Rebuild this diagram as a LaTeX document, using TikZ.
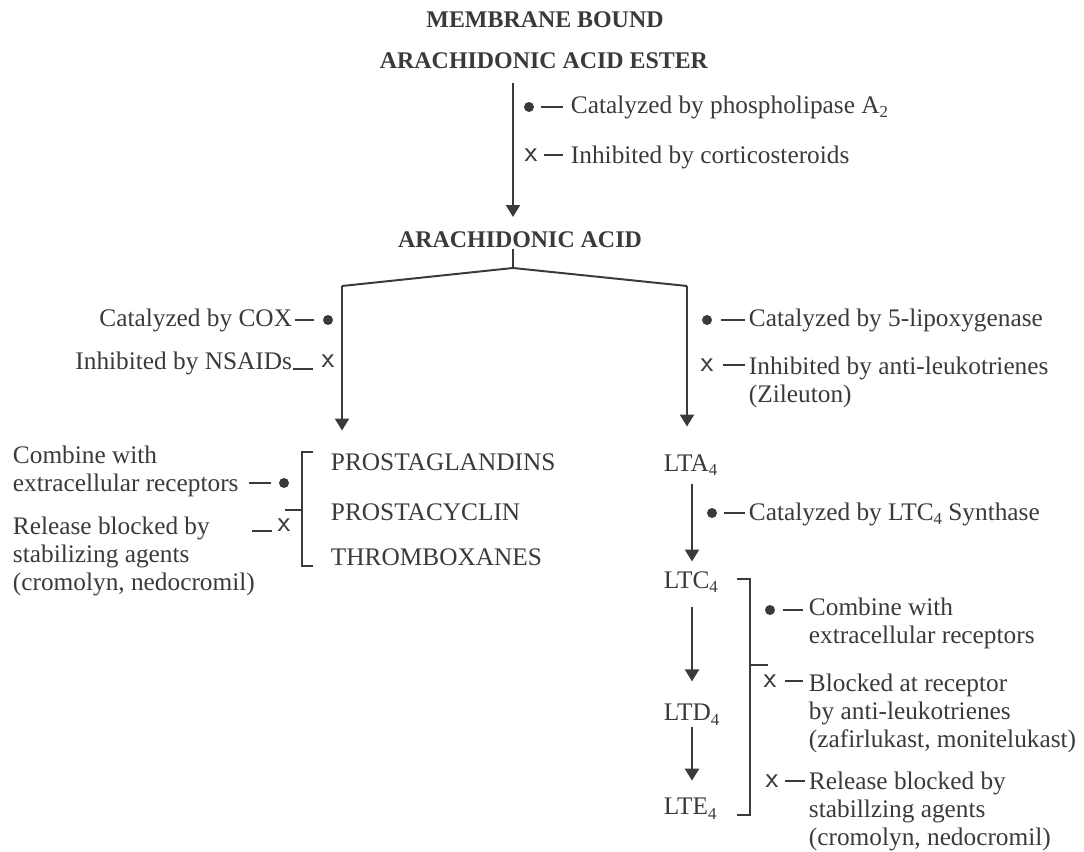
\documentclass[tikz,border=0pt]{standalone}
\usepackage{fontspec}
\setmainfont{Liberation Serif}
\usepackage{tikz}
\usetikzlibrary{arrows.meta, positioning}
\definecolor{ink}{HTML}{3A3A3A}
\newcommand{\lsub}[1]{\raisebox{-0.4ex}{\fontsize{12}{12}\selectfont #1}}

\begin{document}
\begin{tikzpicture}[x=0.025cm, y=-0.025cm, color=ink, line width=1.4pt,
    txt/.style={inner sep=0pt, align=left, font=\fontsize{18}{19.9}\selectfont},
    head/.style={inner sep=0pt, font=\fontsize{17}{20}\selectfont\bfseries},
    catdot/.style={circle, fill=ink, inner sep=0pt, minimum size=0.25cm},
    blockx/.style={inner sep=0pt, font=\fontsize{21}{22}\selectfont\sffamily},
    arr/.style={-{Triangle[width=10pt, length=8.5pt]}}]

    \useasboundingbox (0,0) rectangle (1084,852);

    % main chain
    \node[head] (mb) at (545,20) {MEMBRANE BOUND};
    \node[head] (aae) at (544,61) {ARACHIDONIC ACID ESTER};
    \node[head] (aa) at (520,240) {ARACHIDONIC ACID};

    \coordinate (j0) at (513,268);
    \coordinate (jl) at (342,286);
    \coordinate (jr) at (687,286);

    \draw[arr, shorten <=0.33cm, shorten >=0.35cm] (aae.south -| j0) -- (aa.north -| j0);
    \node[catdot] (m1) at (529,107) {};
    \node[blockx] (m2) at (531,155) {x};
    \node[txt, anchor=west] (t1) at (570,107) {Catalyzed by phospholipase A\lsub{2}};
    \node[txt, anchor=west] (t2) at (570,157) {Inhibited by corticosteroids};
    \draw[shorten <=0.15cm, shorten >=0.175cm] (m1) -- (m1 -| t1.west);
    \draw[shorten <=0.13cm, shorten >=0.175cm] (m2) -- (m2 -| t2.west);

    % split
    \draw (aa.south -| j0) -- (j0) -- (jl);
    \draw (j0) -- (jr);

    % COX branch
    \node[txt, anchor=west] (pg) at (330,462) {PROSTAGLANDINS};
    \node[txt, anchor=west] (pc) at (330,512) {PROSTACYCLIN};
    \node[txt, anchor=west] (tx) at (330,557) {THROMBOXANES};
    \draw[arr, shorten >=0.55cm] (jl) -- (jl |- pg.north);

    \node[catdot] (m3) at (328,320) {};
    \node[blockx] (m4) at (328,361) {x};
    \node[txt, anchor=east] (t3) at (293,320) {Catalyzed by COX};
    \node[txt, anchor=east] (t4) at (293,363) {Inhibited by NSAIDs};
    \draw[shorten <=0.2cm, shorten >=0.05cm] (m3) -- (m3 -| t3.east);
    \draw[shorten <=0.375cm] ([yshift=-0.2cm]m4.center) -- ([yshift=-0.2cm]m4.center -| t4.east);

    \draw (313,452) -- (302,452) -- (302,566) -- (313,566);
    \draw (285,510) -- (302,510);

    \node[catdot] (m7) at (284,483) {};
    \node[blockx] (m8) at (284,525) {x};
    \node[txt, anchor=west] (t7) at (12,471) {Combine with\\extracellular receptors};
    \node[txt, anchor=west] (t8) at (12,556) {Release blocked by\\stabilizing agents\\(cromolyn, nedocromil)};
    \draw[shorten <=0.175cm, shorten >=0.225cm] (m7) -- (m7 -| t7.east);
    \draw[shorten <=0.3cm] ([yshift=-0.15cm]m8.center) -- ++(-32,0);

    % lipoxygenase branch
    \node[txt, anchor=west] (lta) at (663,465) {LTA\lsub{4}};
    \node[txt, anchor=west] (ltc) at (663,582) {LTC\lsub{4}};
    \node[txt, anchor=west] (ltd) at (663,715) {LTD\lsub{4}};
    \node[txt, anchor=west] (lte) at (663,809) {LTE\lsub{4}};
    \coordinate (ltx) at (692,0);

    \draw[arr, shorten >=0.67cm] (jr) -- (jr |- lta.north);
    \node[catdot] (m5) at (707,320) {};
    \node[blockx] (m6) at (707,365) {x};
    \node[txt, anchor=west] (t5) at (748,320) {Catalyzed by 5-lipoxygenase};
    \node[txt, anchor=west] (t6) at (748,382) {Inhibited by anti-leukotrienes\\(Zileuton)};
    \draw[shorten <=0.2cm, shorten >=0.075cm] (m5) -- (m5 -| t5.west);
    \draw[shorten <=0.22cm, shorten >=0.075cm] (m6) -- (m6 -| t6.west);

    \draw[arr, shorten <=0.18cm, shorten >=0.22cm] (lta.south -| ltx) -- (ltc.north -| ltx);
    \draw[arr, shorten <=0.33cm, shorten >=0.55cm] (ltc.south -| ltx) -- (ltd.north -| ltx);
    \draw[arr, shorten >=0.42cm] (ltd.south -| ltx) -- (lte.north -| ltx);

    \node[catdot] (m9) at (712,513) {};
    \node[txt, anchor=west] (t9) at (748,514) {Catalyzed by LTC\lsub{4} Synthase};
    \draw[shorten <=0.15cm, shorten >=0.075cm] (m9) -- (m9 -| t9.west);

    \draw (737,579) -- (750,579) -- (750,815) -- (737,815);
    \draw (750,665) -- (768,665);

    \node[catdot] (m10) at (770,610) {};
    \node[blockx] (m11) at (770,681) {x};
    \node[blockx] (m12) at (772,781) {x};
    \node[txt, anchor=west] (t10) at (808,623) {Combine with\\extracellular receptors};
    \node[txt, anchor=west] (t11) at (808,713) {Blocked at receptor\\by anti-leukotrienes\\(zafirlukast, monitelukast)};
    \node[txt, anchor=west] (t12) at (808,811) {Release blocked by\\stabillzing agents\\(cromolyn, nedocromil)};
    \draw[shorten <=0.175cm, shorten >=0.125cm] (m10) -- (m10 -| t10.west);
    \draw[shorten <=0.2cm, shorten >=0.125cm] (m11) -- (m11 -| t11.west);
    \draw[shorten <=0.15cm, shorten >=0.075cm] (m12) -- (m12 -| t12.west);
\end{tikzpicture}
\end{document}
